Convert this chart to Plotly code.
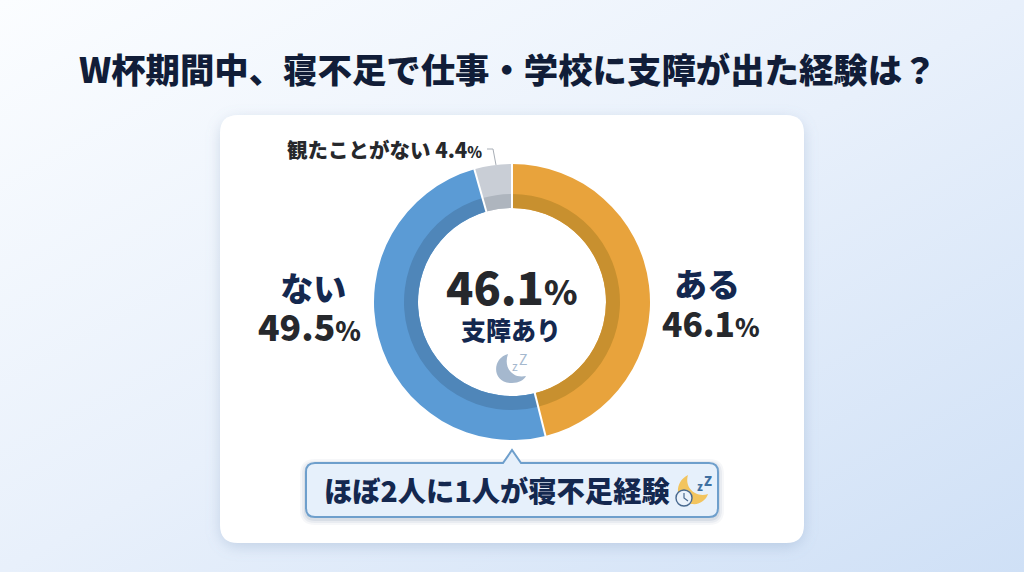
import base64
import math
import plotly.graph_objects as go

W, H = 1024, 572
categories = ["ある", "ない", "観たことがない"]
values = [46.1, 49.5, 4.4]
outer_colors = ["#E8A33C", "#5B9BD5", "#C9CED6"]
inner_colors = ["#C8902F", "#4F86B9", "#AEB5BE"]
title = "W杯期間中、寝不足で仕事・学校に支障が出た経験は？"
center_value = "46.1"
center_label = "支障あり"
callout = "ほぼ2人に1人が寝不足経験"

FONT = "Noto Sans CJK JP"
INK = "#26282c"
NAVY = "#14284f"
CX, CY, R_OUT, R_MID, R_IN = 512, 302, 138, 108, 94


def px(x):
    return x / W


def py(y):
    return 1 - y / H


def dom(r):
    return dict(x=[px(CX - r), px(CX + r)], y=[py(CY + r), py(CY - r)])


def rr(x0, y0, x1, y1, r, tip=None):
    top = f"L{px(x1 - r)},{py(y0)} "
    if tip:
        tx, ty, tw = tip
        top = (f"L{px(tx - tw)},{py(y0)} L{px(tx)},{py(ty)} L{px(tx + tw)},{py(y0)} "
               + top)
    return (f"M{px(x0 + r)},{py(y0)} {top}"
            f"Q{px(x1)},{py(y0)} {px(x1)},{py(y0 + r)} L{px(x1)},{py(y1 - r)} "
            f"Q{px(x1)},{py(y1)} {px(x1 - r)},{py(y1)} L{px(x0 + r)},{py(y1)} "
            f"Q{px(x0)},{py(y1)} {px(x0)},{py(y1 - r)} L{px(x0)},{py(y0 + r)} "
            f"Q{px(x0)},{py(y0)} {px(x0 + r)},{py(y0)} Z")


def poly(pts):
    out = []
    for p in pts:
        cmd, *c = p
        xy = " ".join(f"{px(c[i])},{py(c[i + 1])}" for i in range(0, len(c), 2))
        out.append(cmd + xy)
    return " ".join(out) + " Z"


bg_svg = f"""<svg xmlns='http://www.w3.org/2000/svg' width='{W}' height='{H}' viewBox='0 0 {W} {H}'>
<defs><linearGradient id='g' x1='0' y1='0' x2='1' y2='1'>
<stop offset='0' stop-color='#FBFDFF'/><stop offset='0.5' stop-color='#E8F0FB'/><stop offset='1' stop-color='#CFE0F6'/>
</linearGradient>
<filter id='b' x='-10%' y='-10%' width='120%' height='120%'><feGaussianBlur stdDeviation='7'/></filter></defs>
<rect width='{W}' height='{H}' fill='url(#g)'/>
<rect x='220' y='119' width='584' height='428' rx='18' fill='#7C97BC' fill-opacity='0.32' filter='url(#b)'/>
</svg>"""
bg_uri = "data:image/svg+xml;base64," + base64.b64encode(bg_svg.encode()).decode()

fig = go.Figure()
for colors, r, hole in [(outer_colors, R_OUT, R_IN / R_OUT), (inner_colors, R_MID, R_IN / R_MID)]:
    fig.add_trace(go.Pie(
        labels=categories, values=values, sort=False, direction="clockwise", rotation=0,
        hole=hole, domain=dom(r), textinfo="none", showlegend=False, hoverinfo="label+percent",
        marker=dict(colors=colors, line=dict(width=0)),
    ))

shapes = [dict(type="path", xref="paper", yref="paper", layer="below",
               path=rr(220, 115, 804, 543, 18), fillcolor="#FFFFFF", line=dict(width=0))]
for grow, alpha in [(6, 0.05), (4, 0.07), (2, 0.10)]:
    shapes.append(dict(type="path", xref="paper", yref="paper", layer="below",
                       path=rr(306 - grow, 465 - grow, 718 + grow, 519 + grow, 9 + grow),
                       fillcolor=f"rgba(70,100,140,{alpha})", line=dict(width=0)))
shapes.append(dict(type="path", xref="paper", yref="paper", layer="below",
                   path=rr(306, 463, 718, 517, 9, tip=(512, 450, 9)),
                   fillcolor="#E6F0FB", line=dict(color="#6E9FCC", width=2)))
cum = 0.0
total = sum(values)
for v in values:
    a = 2 * math.pi * cum / total
    shapes.append(dict(type="line", xref="paper", yref="paper",
                       x0=px(CX + (R_IN - 1) * math.sin(a)), y0=py(CY - (R_IN - 1) * math.cos(a)),
                       x1=px(CX + (R_OUT + 1) * math.sin(a)), y1=py(CY - (R_OUT + 1) * math.cos(a)),
                       line=dict(color="#FFFFFF", width=2)))
    cum += v
shapes.append(dict(type="path", xref="paper", yref="paper",
                   path=f"M{px(487)},{py(149)} L{px(493)},{py(149)} L{px(496)},{py(165)}",
                   line=dict(color="#A8AEB6", width=1)))
shapes.append(dict(type="path", xref="paper", yref="paper",
                   path=poly([("M", 508, 354), ("C", 492, 358, 491, 383, 512, 383),
                              ("C", 519, 383, 524, 380, 526, 376), ("C", 513, 379, 503, 368, 508, 354)]),
                   fillcolor="#A5B8CE", line=dict(width=0)))
shapes.append(dict(type="path", xref="paper", yref="paper",
                   path=poly([("M", 688, 475), ("C", 674, 482, 674, 502, 692, 504),
                              ("C", 700, 505, 706, 500, 708, 494), ("C", 696, 498, 684, 488, 688, 475)]),
                   fillcolor="#F2C45E", line=dict(width=0)))
shapes.append(dict(type="circle", xref="paper", yref="paper",
                   x0=px(676), x1=px(692), y0=py(506), y1=py(490),
                   fillcolor="#EAF2FB", line=dict(color="#48698F", width=1.4)))
shapes.append(dict(type="path", xref="paper", yref="paper",
                   path=f"M{px(684)},{py(493)} L{px(684)},{py(498)} L{px(688)},{py(501)}",
                   line=dict(color="#48698F", width=1.2)))


def note(text, x, y, size, color=INK, weight=900):
    return dict(text=text, x=px(x), y=py(y), xref="paper", yref="paper", showarrow=False,
                xanchor="center", yanchor="middle",
                font=dict(family=FONT, size=size, color=color, weight=weight))


def span(text, size, color=INK):
    return f"<span style='font-size:{size}px;fill:{color};color:{color}'>{text}</span>"


def block(head, value, head_size, value_size, pct_size, pad_l="", pad_r=""):
    return (span(pad_l + head + pad_r, head_size, NAVY) + "<br>"
            + span(value, value_size) + span("%", pct_size))


annotations = [
    note(title, 507.5, 68, 34.4, color="#111D38"),
    note(f"{categories[2]} {values[2]}<span style='font-size:15px'>%</span>", 384, 149, 20.5),
    note(block(categories[1], values[1], 33, 35.5, 26, pad_l="\u00a0"), 309, 307, 31),
    note(block(categories[0], values[0], 33, 33.5, 25, pad_r="\u00a0"), 711, 303, 31),
    note(span(center_value, 45) + span("%", 34), 512, 285, 45),
    note(center_label, 511, 329, 25, color=NAVY),
    note("z", 515, 365, 12, color="#A5B8CE", weight=400),
    note("Z", 523, 359, 14, color="#A5B8CE", weight=400),
    note(callout, 497, 489, 28.3, color=NAVY),
    note("z", 700, 486, 11, color="#3E6FA0"),
    note("Z", 708, 480, 13, color="#3E6FA0"),
]

fig.update_layout(
    width=W, height=H, margin=dict(l=0, r=0, t=0, b=0), autosize=False,
    paper_bgcolor="#E8F0FB", plot_bgcolor="rgba(0,0,0,0)",
    images=[dict(source=bg_uri, xref="paper", yref="paper", x=0, y=1, sizex=1, sizey=1,
                 xanchor="left", yanchor="top", sizing="stretch", layer="below")],
    shapes=shapes, annotations=annotations,
)
fig.write_html("out.html", config={"displayModeBar": False},
               post_script="document.body.style.margin='0';document.documentElement.style.overflow='hidden';")
